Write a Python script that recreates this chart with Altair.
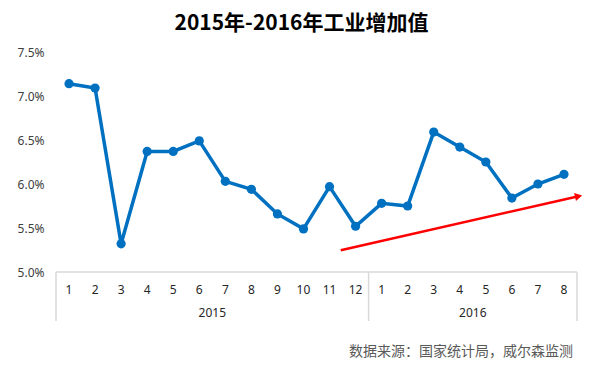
import altair as alt
import pandas as pd

# ---- data ----
months = ["1", "2", "3", "4", "5", "6", "7", "8", "9", "10", "11", "12",
          "1", "2", "3", "4", "5", "6", "7", "8"]
years = ["2015"] * 12 + ["2016"] * 8
values = [7.14, 7.09, 5.32, 6.37, 6.37, 6.49, 6.03, 5.94, 5.66, 5.49, 5.97, 5.52,
          5.78, 5.75, 6.59, 6.42, 6.25, 5.84, 6.00, 6.11]
y_ticks = [5.0, 5.5, 6.0, 6.5, 7.0, 7.5]
year_labels = ["2015", "2016"]
year_centers = [5.5, 15.5]
separators = [-0.5, 11.5, 19.5]
arrow_x = [10.43, 19.56]
arrow_y = [5.247, 5.861]
title_text = "2015年-2016年工业增加值"
source_text = "数据来源：国家统计局，威尔森监测"

df = pd.DataFrame({"idx": list(range(len(values))), "month": months,
                   "year": years, "value": values})
years_df = pd.DataFrame({"x": year_centers, "label": year_labels})
sep_df = pd.DataFrame({"x": separators})
arrow_df = pd.DataFrame({"x": arrow_x, "y": arrow_y})
head_df = pd.DataFrame({"x": [arrow_x[-1]], "y": [arrow_y[-1]]})
src_df = pd.DataFrame({"label": [source_text]})

FONT = "Noto Sans CJK SC"
BLUE = "#0070C0"
GRID = "#D9D9D9"

xs = alt.Scale(domain=[-0.5, 19.5], nice=False, zero=False)
ys = alt.Scale(domain=[5.0, 7.5], nice=False, zero=False)

X = alt.X("idx:Q", scale=xs, axis=None)
Y = alt.Y("value:Q", scale=ys,
          axis=alt.Axis(values=y_ticks, labelExpr="format(datum.value, '.1f') + '%'",
                        domain=False, ticks=False, grid=False, labelPadding=12,
                        labelFontSize=12, labelColor="#404040", labelFont="Noto Sans",
                        title=None))

base = alt.Chart(df)

top_line = alt.Chart(pd.DataFrame({"x": [-0.5], "x2": [19.5], "y": [5.0]})).mark_rule(
    color=GRID, strokeWidth=1.5).encode(
    x=alt.X("x:Q", scale=xs, axis=None), x2="x2:Q", y=alt.Y("y:Q", scale=ys))

seps = alt.Chart(sep_df).mark_rule(color=GRID, strokeWidth=1.5).encode(
    x=alt.X("x:Q", scale=xs, axis=None), y=alt.value(220), y2=alt.value(269))

month_text = base.mark_text(fontSize=12, font="Noto Sans", color="#262626",
                            baseline="middle").encode(
    x=X, y=alt.value(237.5), text="month:N")

year_text = alt.Chart(years_df).mark_text(fontSize=12, font="Noto Sans", color="#262626",
                                          baseline="middle").encode(
    x=alt.X("x:Q", scale=xs, axis=None), y=alt.value(261), text="label:N")

line = base.mark_line(color=BLUE, strokeWidth=3.5).encode(x=X, y=Y)
points = base.mark_point(filled=True, color=BLUE, size=85, opacity=1).encode(x=X, y=Y)

arrow = alt.Chart(arrow_df).mark_line(color="#FF0000", strokeWidth=2.5, clip=False).encode(
    x=alt.X("x:Q", scale=xs, axis=None), y=alt.Y("y:Q", scale=ys))
head = alt.Chart(head_df).mark_point(shape="triangle-right", filled=True, color="#FF0000",
                                     size=70, opacity=1, angle=347, clip=False).encode(
    x=alt.X("x:Q", scale=xs, axis=None), y=alt.Y("y:Q", scale=ys))

source = alt.Chart(src_df).mark_text(fontSize=14, font=FONT, color="#595959",
                                     align="right", baseline="middle").encode(
    x=alt.value(517), y=alt.value(300), text="label:N")

chart = alt.layer(top_line, seps, line, points, arrow, head, month_text, year_text, source).properties(
    width=521, height=220,
    title=alt.TitleParams(text=title_text, font=FONT, fontSize=21, fontWeight="bold",
                          color="#000000", anchor="middle", dx=-15, offset=12),
    autosize=alt.AutoSizeParams(type="none"),
    padding={"left": 48, "top": 44, "right": 15, "bottom": 89},
).configure_view(stroke=None)

chart.save("out.html", embed_options={"renderer": "svg", "actions": False})
